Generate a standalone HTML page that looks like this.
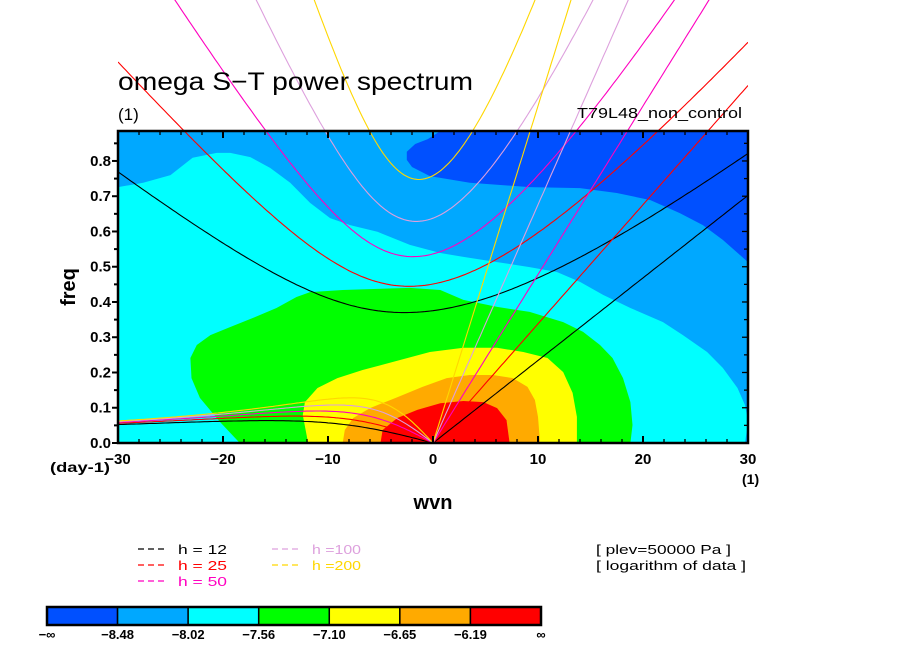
<!DOCTYPE html>
<html><head><meta charset="utf-8"><style>
html,body{margin:0;padding:0;background:#fff;}
svg{display:block;font-family:"Liberation Sans",sans-serif;}
</style></head><body>
<svg id="chart" width="904" height="654" viewBox="0 0 904 654">
<defs><clipPath id="plotClip"><rect x="118" y="131" width="630" height="312"/></clipPath>
<clipPath id="lineClip"><rect x="118" y="0" width="630" height="443"/></clipPath></defs>
<g id="fills" clip-path="url(#plotClip)"></g>
<g id="curves" clip-path="url(#lineClip)"></g>
<g id="axes"></g>
<text x="118" y="90" font-size="25" textLength="355" lengthAdjust="spacingAndGlyphs">omega S−T power spectrum</text>
<text x="118" y="120" font-size="17">(1)</text>
<text x="742" y="118" font-size="15" text-anchor="end" textLength="165" lengthAdjust="spacingAndGlyphs">T79L48_non_control</text>
<text x="75" y="287" font-size="20" font-weight="bold" transform="rotate(-90 75 287)" text-anchor="middle">freq</text>
<text x="433" y="509" font-size="20" font-weight="bold" text-anchor="middle">wvn</text>
<text x="50" y="472" font-size="14" font-weight="bold" textLength="60" lengthAdjust="spacingAndGlyphs">(day-1)</text>
<text x="742" y="484" font-size="14" font-weight="bold">(1)</text>
<g id="legend"></g>
<text x="596" y="554" font-size="13" textLength="135" lengthAdjust="spacingAndGlyphs">[ plev=50000 Pa ]</text>
<text x="596" y="570" font-size="13" textLength="150" lengthAdjust="spacingAndGlyphs">[ logarithm of data ]</text>
<g id="cbar"></g>
</svg>
<script>
const NS="http://www.w3.org/2000/svg";
// ---- data ----
const hValues=[12,25,50,100,200];
const hColors=["#000000","#ff0000","#ff00c0","#dda0dd","#ffd700"];
const levelLabels=["−∞","−8.48","−8.02","−7.56","−7.10","−6.65","−6.19","∞"];
const levelColors=["#0050ff","#00a8ff","#00ffff","#00ff00","#ffff00","#ffaa00","#ff0000"];
const xTicks=[-30,-20,-10,0,10,20,30];
const yTicks=[0,0.1,0.2,0.3,0.4,0.5,0.6,0.7,0.8];
// contour polygons (wavenumber, frequency)
const darkBlueK=[-2.5,-1.7,-0.5,0.7,30,30,27.6,25.7,23.5,20.7,17.5,14.0,9.2,3.5,-0.3,-2.0,-2.5];
const darkBlueF=[0.826,0.848,0.862,0.885,0.885,0.513,0.576,0.618,0.652,0.689,0.709,0.723,0.726,0.738,0.757,0.783,0.803];
const cyanK=[-30,-27.6,-25.0,-22.9,-20.6,-19.3,-17.4,-15.5,-13.6,-11.7,-9.8,-7.9,-5.3,-2.2,0.7,2.9,6.1,9.2,11.8,14.0,16.2,18.8,21.9,23.8,26.1,27.6,29.0,29.7,29.9,29.9,29.7,-30];
const cyanF=[0.726,0.738,0.760,0.809,0.823,0.823,0.811,0.780,0.738,0.681,0.638,0.618,0.599,0.562,0.539,0.528,0.513,0.499,0.485,0.457,0.420,0.383,0.343,0.306,0.258,0.213,0.156,0.108,0.079,0.037,0,0];
const greenK=[-18.4,-20.3,-22.2,-23.0,-23.1,-22.5,-21.2,-19.3,-17.1,-14.9,-13.0,-11.7,-8.6,-5.3,-2.2,0.7,2.9,6.1,9.2,12.4,14.3,15.9,17.1,18.1,18.8,19.0,18.8];
const greenF=[0,0.060,0.128,0.184,0.241,0.278,0.306,0.329,0.355,0.383,0.414,0.428,0.434,0.437,0.440,0.434,0.406,0.386,0.372,0.343,0.315,0.278,0.241,0.184,0.116,0.051,0];
const yellowK=[-11.9,-12.4,-12.2,-11.0,-9.1,-6.7,-3.8,-0.3,2.9,6.1,8.6,10.9,12.4,13.3,13.7,13.7];
const yellowF=[0,0.079,0.116,0.156,0.184,0.207,0.230,0.258,0.270,0.270,0.258,0.241,0.201,0.142,0.074,0];
const orangeK=[-8.6,-8.4,-7.6,-6.0,-3.4,-1.0,1.3,3.5,5.7,7.6,9.0,9.7,10.0,10.2];
const orangeF=[0,0.037,0.071,0.099,0.130,0.159,0.184,0.193,0.193,0.184,0.159,0.122,0.074,0];
const redK=[-5.0,-4.8,-3.4,-1.5,0.7,2.9,4.8,6.1,7.0,7.3];
const redF=[0,0.037,0.071,0.094,0.113,0.119,0.116,0.099,0.065,0];

// ---- axes functions ----
const X0=118,X1=748,Y0=443,Y1=131,KMIN=-30,KMAX=30,FMAX=0.885;
const sx=k=>X0+(k-KMIN)/(KMAX-KMIN)*(X1-X0);
const sy=f=>Y0-f/FMAX*(Y0-Y1);
function mk(tag,parent,attrs){const e=document.createElementNS(NS,tag);for(const a in attrs)e.setAttribute(a,attrs[a]);parent.appendChild(e);return e;}

const fills=document.getElementById('fills');
let bg=mk('rect',fills,{x:X0,y:Y1,width:X1-X0,height:Y0-Y1,fill:levelColors[1]});


const polys=[[darkBlueK,darkBlueF,0,'band-dark-blue'],[cyanK,cyanF,2,'band-cyan'],[greenK,greenF,3,'band-green'],[yellowK,yellowF,4,'band-yellow'],[orangeK,orangeF,5,'band-orange'],[redK,redF,6,'band-red']];
polys.forEach(p=>{
  const pts=p[0].map((k,i)=>sx(k).toFixed(1)+','+sy(p[1][i]).toFixed(1)).join(' ');
  const e=mk('polygon',fills,{points:pts,fill:levelColors[p[2]]});
  
  
});

// ---- dispersion curves ----
const g=9.81,a=6.371e6,beta=2*7.292e-5/a,toCpd=86400/(2*Math.PI);
function solve(c,kk,w){
  for(let i=0;i<60;i++){const F=w*w*w-(c*c*kk*kk+3*beta*c)*w-beta*c*c*kk;const d=3*w*w-(c*c*kk*kk+3*beta*c);w-=F/d;}
  return w;
}
const curves=document.getElementById('curves');
hValues.forEach((h,hi)=>{
  const c=Math.sqrt(g*h);let ig=[],ro=[],kel=[];
  for(let s=-30;s<=30.001;s+=0.25){
    const kk=s/a;
    let w0=Math.sqrt(c*c*kk*kk+3*beta*c)*1.05;
    ig.push(sx(s).toFixed(1)+','+sy(solve(c,kk,w0)*toCpd).toFixed(1));
    if(s<=0){const wr=s===0?0:solve(c,kk,-beta*kk/(kk*kk+3*beta/c));ro.push(sx(s).toFixed(1)+','+sy(wr*toCpd).toFixed(1));}
    if(s>=0){kel.push(sx(s).toFixed(1)+','+sy(c*kk*toCpd).toFixed(1));}
  }
  [[ig,'ig'],[ro,'rossby'],[kel,'kelvin']].forEach(q=>{
    const e=mk('polyline',curves,{points:q[0].join(' '),fill:'none',stroke:hColors[hi],'stroke-width':1.1});
    
    
  });
});

// ---- axes ----
const axes=document.getElementById('axes');
mk('rect',axes,{x:X0,y:Y1,width:X1-X0,height:Y0-Y1,fill:'none',stroke:'#000','stroke-width':2.5});
for(let k=-30;k<=30;k+=2){
  const big=k%10===0,L=big?7:4;
  mk('line',axes,{x1:sx(k),x2:sx(k),y1:Y0,y2:Y0-L,stroke:'#000','stroke-width':big?2:1.3});
  mk('line',axes,{x1:sx(k),x2:sx(k),y1:Y1,y2:Y1+L,stroke:'#000','stroke-width':big?2:1.3});
}
for(let i=0;i<=17;i++){
  const f=i*0.05,big=i%2===0,L=big?6:4;
  mk('line',axes,{x1:X0,x2:X0-L,y1:sy(f),y2:sy(f),stroke:'#000','stroke-width':2});
  mk('line',axes,{x1:X1,x2:X1-L,y1:sy(f),y2:sy(f),stroke:'#000','stroke-width':1.3});
}
xTicks.forEach(k=>{
  const t=mk('text',axes,{x:sx(k),y:Y0+21,'font-size':15,'font-weight':'bold','text-anchor':'middle'});
  t.textContent=(k<0?'−':'')+Math.abs(k);
  
  
});
yTicks.forEach(f=>{
  const t=mk('text',axes,{x:X0-7,y:sy(f)+5,'font-size':15,'font-weight':'bold','text-anchor':'end'});
  t.textContent=f.toFixed(1);
  
  
});

// ---- legend ----
const legend=document.getElementById('legend');
const legX=[138,138,138,272,272],legY=[554,570,586,554,570];
const legTxt=["h = 12","h = 25","h = 50","h =100","h =200"];
hValues.forEach((h,i)=>{
  const e=mk('g',legend,{});
  
  
  mk('line',e,{x1:legX[i],x2:legX[i]+30,y1:legY[i]-5,y2:legY[i]-5,stroke:hColors[i],'stroke-width':1.2,'stroke-dasharray':'6,4'});
  const t=mk('text',e,{x:legX[i]+40,y:legY[i],'font-size':13,fill:hColors[i],textLength:49,lengthAdjust:'spacingAndGlyphs'});
  t.textContent=legTxt[i];
});

// ---- colorbar ----
const cb=document.getElementById('cbar');
const CB0=47,CB1=541,CBY=607,CBH=18,sw=(CB1-CB0)/levelColors.length;
levelColors.forEach((col,i)=>{
  const r=mk('rect',cb,{x:CB0+i*sw,y:CBY,width:sw,height:CBH,fill:col,stroke:'#000','stroke-width':1.5});
  
  
});
mk('rect',cb,{x:CB0,y:CBY,width:CB1-CB0,height:CBH,fill:'none',stroke:'#000','stroke-width':2.5});
levelLabels.forEach((l,i)=>{
  const t=mk('text',cb,{x:CB0+i*sw,y:CBY+CBH+14,'font-size':13,'font-weight':'bold','text-anchor':'middle'});
  t.textContent=l;
  
  
});
</script>
</body></html>
